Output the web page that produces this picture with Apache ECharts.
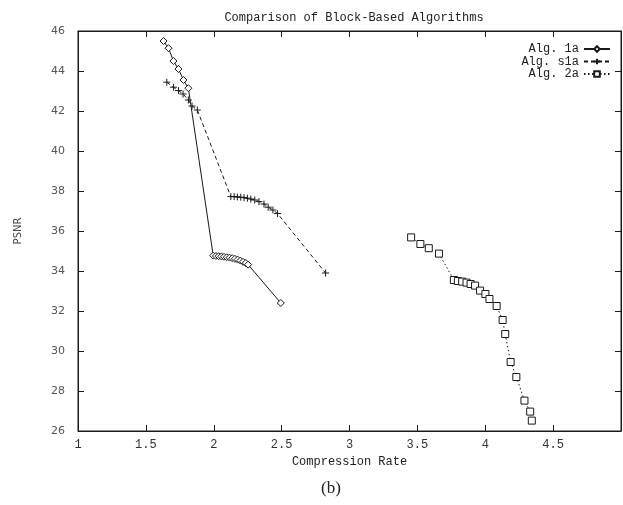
<!DOCTYPE html>
<html>
<head>
<meta charset="utf-8">
<script src="https://cdn.jsdelivr.net/npm/echarts@6/dist/echarts.min.js"></script>
<style>
  html, body { margin: 0; padding: 0; background: #fff; }
  #chart { width: 623px; height: 505px; }
</style>
</head>
<body>
<div id="chart"></div>
<script>
// Compression rate vs PSNR for three block-based algorithms
const alg1aRate = [1.630, 1.667, 1.703, 1.740, 1.777, 1.813,
  1.996, 2.016, 2.036, 2.056, 2.076, 2.096, 2.116, 2.136, 2.156, 2.176, 2.196, 2.216, 2.236, 2.253,
  2.494];
const alg1aPsnr = [45.50, 45.14, 44.50, 44.10, 43.55, 43.14,
  34.77, 34.75, 34.74, 34.73, 34.71, 34.69, 34.67, 34.64, 34.61, 34.57, 34.52, 34.46, 34.40, 34.32,
  32.40];

const algS1aRate = [1.654, 1.703, 1.740, 1.774, 1.813, 1.840, 1.879,
  2.126, 2.150, 2.174, 2.199, 2.223, 2.248, 2.273, 2.302, 2.333, 2.370, 2.401, 2.436, 2.470,
  2.824];
const algS1aPsnr = [43.44, 43.19, 43.02, 42.85, 42.55, 42.25, 42.05,
  37.72, 37.72, 37.70, 37.69, 37.67, 37.64, 37.60, 37.55, 37.47, 37.35, 37.19, 37.05, 36.87,
  33.90];

const alg2aRate = [3.454, 3.522, 3.584, 3.659,
  3.769, 3.798, 3.830, 3.862, 3.892, 3.925, 3.962, 4.001, 4.031, 4.084,
  4.128, 4.147, 4.187, 4.229, 4.289, 4.331, 4.343];
const alg2aPsnr = [35.68, 35.35, 35.14, 34.87,
  33.55, 33.50, 33.47, 33.42, 33.35, 33.27, 33.02, 32.85, 32.60, 32.25,
  31.55, 30.85, 29.45, 28.70, 27.52, 26.97, 26.52];

const xMin = 1, xMax = 5, xStep = 0.5;
const yMin = 26, yMax = 46, yStep = 2;

const seriesNames = ['Alg. 1a', 'Alg. s1a', 'Alg. 2a'];

const zip = (xs, ys) => xs.map((x, i) => [x, ys[i]]);

const ink = '#1a1a1a';
const mono = '"Liberation Mono", "DejaVu Sans Mono", monospace';
const plusPath = 'path://M0,5L10,5M5,0L5,10';

const chart = echarts.init(document.getElementById('chart'), null, { renderer: 'canvas' });

const tickStyle = { show: true, inside: true, length: 6, lineStyle: { color: ink, width: 1 } };

chart.setOption({
  animation: false,
  backgroundColor: '#fff',
  title: [
    {
      text: 'Comparison of Block-Based Algorithms',
      left: 349, top: 7, textAlign: 'center',
      textStyle: { fontFamily: mono, fontSize: 12, fontWeight: 'normal', color: '#222' }
    },
    {
      text: '(b)',
      left: 326, top: 475, textAlign: 'center',
      textStyle: { fontFamily: '"Liberation Serif", "DejaVu Serif", serif', fontSize: 17, fontWeight: 'normal', color: '#222' }
    }
  ],
  legend: {
    orient: 'vertical',
    right: 7, top: 38,
    align: 'right',
    itemWidth: 26, itemHeight: 7, itemGap: 0.5,
    textStyle: { fontFamily: mono, fontSize: 12, color: '#222', padding: [0, 0, 0, 0] },
    data: seriesNames
  },
  grid: {
    left: 78, right: 2, top: 31, bottom: 74,
    show: true, borderColor: ink, borderWidth: 1
  },
  xAxis: [
    {
      type: 'value', min: xMin, max: xMax, interval: xStep,
      name: 'Compression Rate', nameLocation: 'middle', nameGap: 22,
      nameTextStyle: { fontFamily: mono, fontSize: 12, color: '#222' },
      axisLine: { show: true, lineStyle: { color: ink } },
      axisTick: tickStyle,
      axisLabel: { fontFamily: mono, fontSize: 12, color: '#333', margin: 8, showMaxLabel: false },
      splitLine: { show: false }
    },
    {
      type: 'value', min: xMin, max: xMax, interval: xStep, position: 'top',
      axisLine: { show: true, lineStyle: { color: ink } },
      axisTick: tickStyle,
      axisLabel: { show: false },
      splitLine: { show: false }
    }
  ],
  yAxis: [
    {
      type: 'value', min: yMin, max: yMax, interval: yStep,
      name: 'PSNR', nameLocation: 'middle', nameGap: 55, nameRotate: 90,
      nameTextStyle: { fontFamily: '"DejaVu Sans", sans-serif', fontSize: 10, color: '#444' },
      axisLine: { show: true, lineStyle: { color: ink } },
      axisTick: tickStyle,
      axisLabel: { fontFamily: '"DejaVu Sans", sans-serif', fontSize: 11, color: '#555', margin: 13 },
      splitLine: { show: false }
    },
    {
      type: 'value', min: yMin, max: yMax, interval: yStep, position: 'right',
      axisLine: { show: true, lineStyle: { color: ink } },
      axisTick: tickStyle,
      axisLabel: { show: false },
      splitLine: { show: false }
    }
  ],
  series: [
    {
      name: seriesNames[0], type: 'line', data: zip(alg1aRate, alg1aPsnr),
      symbol: 'diamond', symbolSize: 7,
      itemStyle: { color: '#fff', borderColor: ink, borderWidth: 1 },
      lineStyle: { color: ink, width: 1, type: 'solid' }
    },
    {
      name: seriesNames[1], type: 'line', data: zip(algS1aRate, algS1aPsnr),
      symbol: plusPath, symbolSize: 7,
      itemStyle: { color: 'rgba(0,0,0,0)', borderColor: ink, borderWidth: 1 },
      lineStyle: { color: ink, width: 1, type: [4, 3] }
    },
    {
      name: seriesNames[2], type: 'line', data: zip(alg2aRate, alg2aPsnr),
      symbol: 'rect', symbolSize: 7,
      itemStyle: { color: '#fff', borderColor: ink, borderWidth: 1 },
      lineStyle: { color: ink, width: 1, type: [1.5, 2.5] }
    }
  ]
});
</script>
</body>
</html>
